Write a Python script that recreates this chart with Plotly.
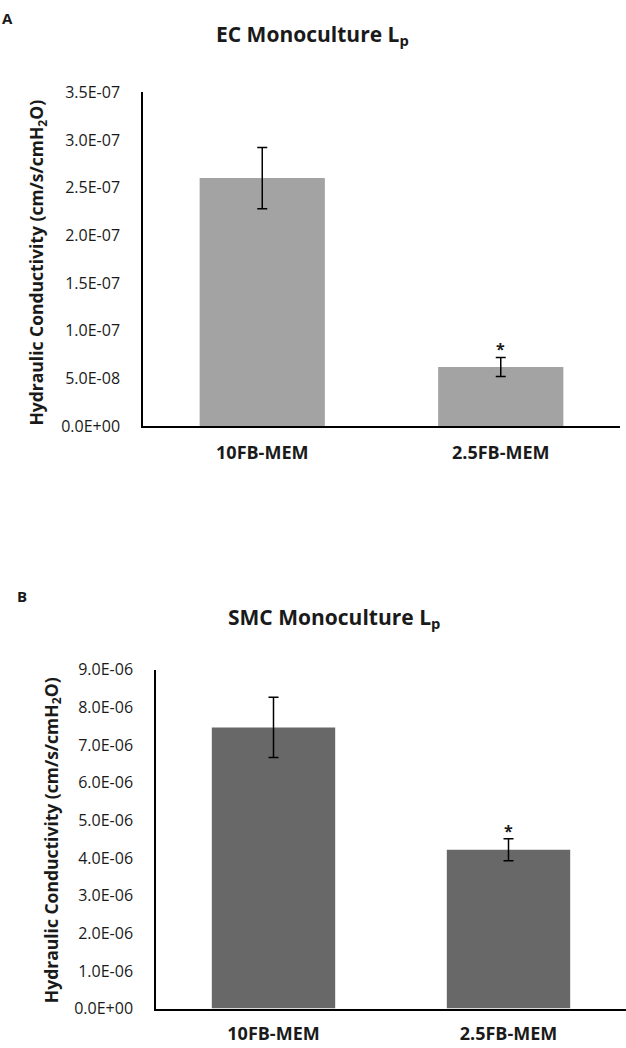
import plotly.graph_objects as go

# ---- data ----
categories = ["10FB-MEM", "2.5FB-MEM"]

ec_values = [2.60e-07, 6.2e-08]
ec_errors = [3.2e-08, 1.0e-08]

smc_values = [7.47e-06, 4.22e-06]
smc_errors = [8.0e-07, 2.9e-07]

ec_tickvals = [0, 5e-08, 1e-07, 1.5e-07, 2e-07, 2.5e-07, 3e-07, 3.5e-07]
ec_ticktext = ["0.0E+00", "5.0E-08", "1.0E-07", "1.5E-07", "2.0E-07", "2.5E-07", "3.0E-07", "3.5E-07"]

smc_tickvals = [0, 1e-06, 2e-06, 3e-06, 4e-06, 5e-06, 6e-06, 7e-06, 8e-06, 9e-06]
smc_ticktext = ["0.0E+00", "1.0E-06", "2.0E-06", "3.0E-06", "4.0E-06", "5.0E-06",
                "6.0E-06", "7.0E-06", "8.0E-06", "9.0E-06"]

sig_marks = ["", "*"]

# ---- styling ----
FONT = "Open Sans"
TXT = "#1a1a1a"
W, H = 626, 1048

fig = go.Figure()

fig.add_trace(go.Bar(
    x=categories, y=ec_values, xaxis="x", yaxis="y",
    marker=dict(color="#A3A3A3", line=dict(width=0)),
    error_y=dict(type="data", array=ec_errors, visible=True,
                 color="black", thickness=1.5, width=5),
    showlegend=False, hoverinfo="skip",
))
fig.add_trace(go.Bar(
    x=categories, y=smc_values, xaxis="x2", yaxis="y2",
    marker=dict(color="#686868", line=dict(width=0)),
    error_y=dict(type="data", array=smc_errors, visible=True,
                 color="black", thickness=1.5, width=5),
    showlegend=False, hoverinfo="skip",
))

def px_x(p):
    return p / W

def px_y(p):
    return 1 - p / H

axis_common = dict(showgrid=False, zeroline=False, showline=True,
                   linecolor="black", linewidth=1.5, ticks="")

fig.update_layout(
    width=W, height=H,
    margin=dict(l=0, r=0, t=0, b=0),
    paper_bgcolor="white", plot_bgcolor="white",
    bargap=0.475,
    font=dict(family=FONT, color=TXT),
    xaxis=dict(domain=[px_x(143), px_x(620)], anchor="y",
               tickfont=dict(family=FONT, size=18, color=TXT, weight="bold"),
               ticklabelstandoff=10, **axis_common),
    yaxis=dict(domain=[px_y(424), px_y(83)], anchor="x",
               range=[0, 3.5e-07], tickvals=ec_tickvals, ticktext=ec_ticktext,
               tickfont=dict(family=FONT, size=16, color=TXT),
               ticklabelstandoff=18, **axis_common),
    xaxis2=dict(domain=[px_x(156), 1.0], anchor="y2",
                tickfont=dict(family=FONT, size=18, color=TXT, weight="bold"),
                ticklabelstandoff=8, **axis_common),
    yaxis2=dict(domain=[px_y(1019), px_y(673)], anchor="x2",
                range=[0, 9e-06], tickvals=smc_tickvals, ticktext=smc_ticktext,
                tickfont=dict(family=FONT, size=16, color=TXT),
                ticklabelstandoff=18, **axis_common),
)

ann = []
# panel letters
ann.append(dict(text="<b>A</b>", x=px_x(0), y=px_y(0), xref="paper", yref="paper",
                xanchor="left", yanchor="top", showarrow=False, yshift=5,
                font=dict(family=FONT, size=15, color=TXT)))
ann.append(dict(text="<b>B</b>", x=px_x(15), y=px_y(598), xref="paper", yref="paper",
                xanchor="left", yanchor="middle", showarrow=False,
                font=dict(family=FONT, size=15, color=TXT)))
# titles
ann.append(dict(text="<b>EC Monoculture L<sub>p</sub></b>", x=px_x(312), y=px_y(25),
                xref="paper", yref="paper", xanchor="center", yanchor="middle",
                showarrow=False, font=dict(family=FONT, size=21, color=TXT)))
ann.append(dict(text="<b>SMC Monoculture L<sub>p</sub></b>", x=px_x(334), y=px_y(620),
                xref="paper", yref="paper", xanchor="center", yanchor="middle",
                showarrow=False, font=dict(family=FONT, size=21, color=TXT)))
# y-axis titles
ann.append(dict(text="<b>Hydraulic Conductivity (cm/s/cmH<sub>2</sub>O)</b>",
                x=px_x(38), y=px_y(257), xref="paper", yref="paper",
                xanchor="center", yanchor="middle", textangle=-90, showarrow=False,
                font=dict(family=FONT, size=17.5, color=TXT)))
ann.append(dict(text="<b>Hydraulic Conductivity (cm/s/cmH<sub>2</sub>O)</b>",
                x=px_x(52), y=px_y(847), xref="paper", yref="paper",
                xanchor="center", yanchor="middle", textangle=-90, showarrow=False,
                font=dict(family=FONT, size=17.5, color=TXT)))
# significance marks
for cat, v, e, m in zip(categories, ec_values, ec_errors, sig_marks):
    if m:
        ann.append(dict(text="<b>" + m + "</b>", x=cat, y=v + e, xref="x", yref="y",
                        xanchor="center", yanchor="bottom", showarrow=False, yshift=-5,
                        font=dict(family=FONT, size=16, color=TXT)))
for cat, v, e, m in zip(categories, smc_values, smc_errors, sig_marks):
    if m:
        ann.append(dict(text="<b>" + m + "</b>", x=cat, y=v + e, xref="x2", yref="y2",
                        xanchor="center", yanchor="bottom", showarrow=False, yshift=-5,
                        font=dict(family=FONT, size=16, color=TXT)))

fig.update_layout(annotations=ann)

fig.write_html("out.html",
               config={"displayModeBar": False},
               post_script="document.body.style.margin='0';document.body.style.overflow='hidden';")
